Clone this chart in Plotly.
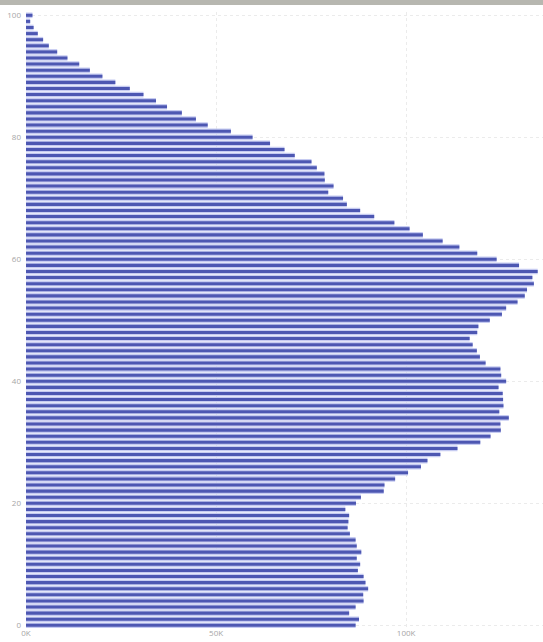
import plotly.graph_objects as go

ages = list(range(0, 101))

# population (thousands) by age 0..100
population_k = [
    86.7, 87.6, 85.0, 86.7, 88.8, 88.7, 90.0, 89.3, 88.8, 87.3,   # 0-9
    87.9, 87.0, 88.2, 87.0, 86.7, 85.2, 84.6, 84.8, 85.0, 84.0,   # 10-19
    86.8, 88.1, 94.1, 94.3, 97.1, 100.5, 103.9, 105.6, 109.0, 113.5,  # 20-29
    119.5, 122.2, 124.9, 124.8, 127.0, 124.5, 125.6, 125.5, 125.4, 124.3,  # 30-39
    126.3, 125.0, 124.8, 120.9, 119.4, 118.6, 117.5, 116.7, 118.7, 119.0,  # 40-49
    122.0, 125.2, 126.3, 129.3, 131.2, 131.8, 133.6, 133.2, 134.6, 129.7,  # 50-59
    123.8, 118.7, 114.0, 109.6, 104.4, 100.9, 96.9, 91.6, 87.9, 84.4,   # 60-69
    83.4, 79.5, 80.9, 78.6, 78.5, 76.5, 75.1, 70.7, 68.0, 64.2,   # 70-79
    59.6, 53.9, 47.8, 44.7, 41.0, 37.1, 34.2, 30.9, 27.3, 23.5,   # 80-89
    20.1, 16.8, 14.0, 10.9, 8.2, 6.0, 4.5, 3.1, 2.0, 1.1,         # 90-99
    1.7,                                                          # 100
]
population = [v * 1000 for v in population_k]

x_tickvals = [0, 50000, 100000]
x_ticktext = ["0K", "50K", "100K"]
y_tickvals = [0, 20, 40, 60, 80, 100]

fig = go.Figure()
# soft halo (the picture is slightly blurred)
fig.add_trace(go.Bar(
    x=population, y=ages, orientation="h", width=0.92,
    marker=dict(color="#c6cbf1", line=dict(width=0)),
    hoverinfo="skip", showlegend=False,
))
# dark core
fig.add_trace(go.Bar(
    x=population, y=ages, orientation="h", width=0.5,
    marker=dict(color="#4d57b2", line=dict(width=0)),
    showlegend=False,
))

W, H = 543, 642
ml, mr, mt, mb = 26, 0, 12, 12
plot_w = W - ml - mr
plot_h = H - mt - mb

fig.update_layout(
    width=W, height=H,
    margin=dict(l=ml, r=mr, t=mt, b=mb, pad=0, autoexpand=False),
    barmode="overlay",
    paper_bgcolor="white",
    plot_bgcolor="white",
    font=dict(family="Open Sans, DejaVu Sans, sans-serif", size=8, color="#a6a6a6"),
    xaxis=dict(
        range=[0, 136000],
        tickvals=x_tickvals, ticktext=x_ticktext,
        showgrid=True, gridcolor="#ebebeb", griddash="dot", gridwidth=1,
        zeroline=False, showline=False, ticks="",
        automargin=False,
        ticklabelstandoff=-3,
        tickfont=dict(size=8, color="#a6a6a6"),
        fixedrange=True,
    ),
    yaxis=dict(
        range=[-0.77, 100.54],
        tickvals=y_tickvals,
        showgrid=True, gridcolor="#ebebeb", griddash="dot", gridwidth=1,
        zeroline=False, showline=False, ticks="",
        automargin=False,
        ticklabelstandoff=4,
        tickfont=dict(size=8, color="#a6a6a6"),
        fixedrange=True,
    ),
    shapes=[dict(
        type="rect", xref="paper", yref="paper",
        x0=-ml / plot_w - 0.01, x1=1.01,
        y0=1 + (mt - 5) / plot_h, y1=1 + mt / plot_h + 0.01,
        fillcolor="#b7b7b0", line=dict(width=0), layer="above",
    )],
)

fig.write_html(
    "out.html",
    config={"displayModeBar": False},
    post_script="document.body.style.margin='0';document.body.style.overflow='hidden';",
)
